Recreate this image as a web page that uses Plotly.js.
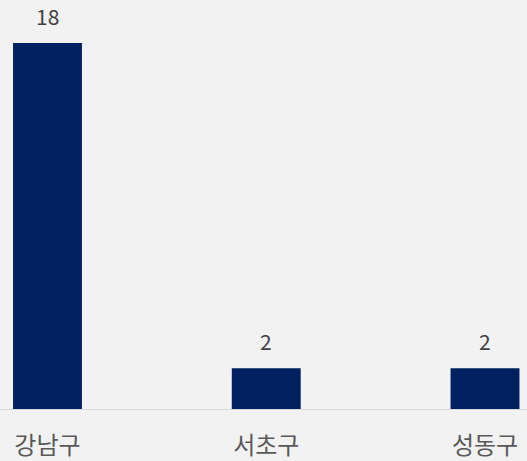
<!DOCTYPE html>
<html>
<head>
<meta charset="utf-8">
<script src="https://cdn.plot.ly/plotly-3.0.1.min.js"></script>
<style>html,body{margin:0;padding:0;background:#f2f2f2;}</style>
</head>
<body>
<div id="chart" style="width:527px;height:461px;"></div>
<script>
const categories = ["강남구", "서초구", "성동구"];
const values = [18, 2, 2];

const font = "'Noto Sans CJK KR', 'Noto Sans', sans-serif";

const trace = {
  type: "bar",
  x: categories,
  y: values,
  width: 0.315,
  marker: {color: "#002060"},
  hoverinfo: "none"
};

const annotations = categories.map((c, i) => ({
  x: c, y: values[i], xref: "x", yref: "y",
  text: String(values[i]), showarrow: false,
  yanchor: "bottom", yshift: 10,
  font: {family: font, size: 21, color: "#404040"}
}));

const layout = {
  width: 527, height: 461,
  margin: {l: 0, r: 0, t: 0, b: 52},
  paper_bgcolor: "#f2f2f2",
  plot_bgcolor: "#f2f2f2",
  showlegend: false,
  xaxis: {
    type: "category",
    range: [-0.2171, 2.192],
    showline: true, linecolor: "#d9d9d9", linewidth: 1,
    showgrid: false, zeroline: false, ticks: "",
    ticklabelstandoff: 15,
    tickfont: {family: font, size: 24, color: "#595959"},
    fixedrange: true
  },
  yaxis: {
    range: [0, 20.11],
    visible: false, showgrid: false, zeroline: false,
    fixedrange: true
  },
  annotations: annotations
};

Plotly.newPlot("chart", [trace], layout, {displayModeBar: false, staticPlot: true});
</script>
</body>
</html>
